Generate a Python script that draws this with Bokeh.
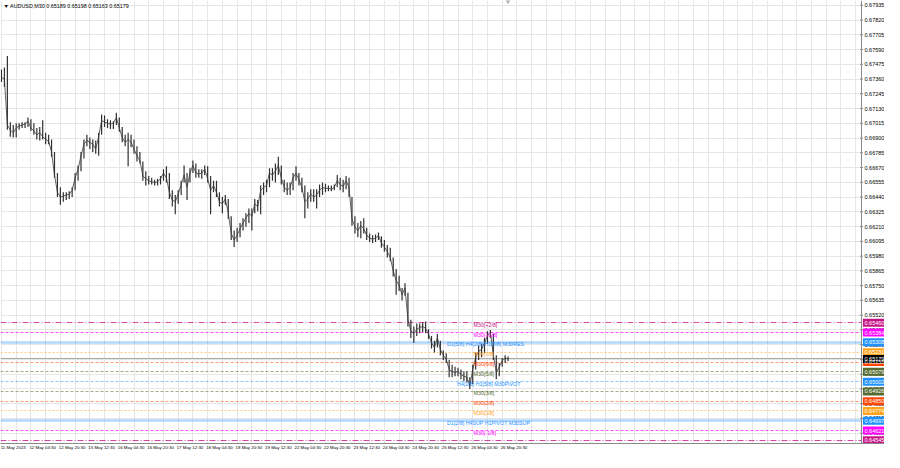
from bokeh.plotting import figure
from bokeh.models import Range1d, FixedTicker, Label
from bokeh.core.properties import value
from bokeh.embed import file_html
from bokeh.resources import INLINE

chart_title = "\u25bc AUDUSD,M30  0.65189 0.65198 0.65163 0.65179"

# aggregated bars (high / low / close), left to right
high = [
    0.67434, 0.67449, 0.67539, 0.67024, 0.67001, 0.67016, 0.67016, 0.67024, 0.67024, 0.67061,
    0.67046, 0.67016, 0.66979, 0.66986, 0.67039, 0.66941, 0.66926, 0.66889, 0.66792, 0.66627,
    0.66516, 0.66478, 0.66478, 0.66485, 0.66516, 0.66627, 0.66687, 0.66792, 0.66889, 0.66926,
    0.66904, 0.66889, 0.66881, 0.66941, 0.67083, 0.67076, 0.67046, 0.67039, 0.67031, 0.67098,
    0.67061, 0.66986, 0.66926, 0.66941, 0.66926, 0.66889, 0.66837, 0.66792, 0.66717, 0.66642,
    0.66605, 0.66590, 0.66575, 0.66583, 0.66605, 0.66657, 0.66680, 0.66627, 0.66493, 0.66456,
    0.66493, 0.66568, 0.66687, 0.66627, 0.66665, 0.66725, 0.66702, 0.66657, 0.66657, 0.66687,
    0.66680, 0.66605, 0.66568, 0.66568, 0.66478, 0.66441, 0.66456, 0.66426, 0.66291, 0.66179,
    0.66202, 0.66239, 0.66276, 0.66314, 0.66351, 0.66351, 0.66426, 0.66418, 0.66530, 0.66553,
    0.66575, 0.66665, 0.66665, 0.66702, 0.66755, 0.66687, 0.66575, 0.66553, 0.66553, 0.66627,
    0.66680, 0.66627, 0.66590, 0.66530, 0.66478, 0.66501, 0.66501, 0.66501, 0.66538, 0.66553,
    0.66545, 0.66530, 0.66530, 0.66538, 0.66612, 0.66590, 0.66575, 0.66605, 0.66590, 0.66441,
    0.66291, 0.66239, 0.66254, 0.66276, 0.66202, 0.66157, 0.66142, 0.66149, 0.66164, 0.66134,
    0.66105, 0.66067, 0.66045, 0.65970, 0.65880, 0.65828, 0.65731, 0.65768, 0.65694, 0.65485,
    0.65432, 0.65455, 0.65455, 0.65462, 0.65470, 0.65410, 0.65358, 0.65320, 0.65373, 0.65320,
    0.65245, 0.65223, 0.65171, 0.65133, 0.65118, 0.65111, 0.65096, 0.65081, 0.65081, 0.65036,
    0.65133, 0.65230, 0.65283, 0.65298, 0.65343, 0.65395, 0.65405, 0.65373, 0.65208, 0.65148,
    0.65186, 0.65208, 0.65198,
]
low = [
    0.67337, 0.67300, 0.66964, 0.66911, 0.66904, 0.66904, 0.66964, 0.66979, 0.66979, 0.66986,
    0.66956, 0.66926, 0.66889, 0.66881, 0.66889, 0.66852, 0.66852, 0.66755, 0.66590, 0.66441,
    0.66381, 0.66403, 0.66418, 0.66426, 0.66441, 0.66493, 0.66568, 0.66642, 0.66740, 0.66837,
    0.66814, 0.66792, 0.66777, 0.66762, 0.66926, 0.66986, 0.66979, 0.66971, 0.66971, 0.67001,
    0.66949, 0.66867, 0.66837, 0.66680, 0.66829, 0.66777, 0.66717, 0.66702, 0.66568, 0.66530,
    0.66538, 0.66538, 0.66530, 0.66530, 0.66538, 0.66568, 0.66553, 0.66426, 0.66366, 0.66306,
    0.66388, 0.66456, 0.66553, 0.66418, 0.66553, 0.66627, 0.66590, 0.66590, 0.66583, 0.66612,
    0.66553, 0.66306, 0.66478, 0.66441, 0.66366, 0.66314, 0.66381, 0.66269, 0.66105, 0.66052,
    0.66090, 0.66127, 0.66179, 0.66209, 0.66239, 0.66179, 0.66314, 0.66329, 0.66306, 0.66456,
    0.66478, 0.66516, 0.66568, 0.66553, 0.66612, 0.66538, 0.66478, 0.66456, 0.66456, 0.66493,
    0.66568, 0.66530, 0.66478, 0.66276, 0.66351, 0.66403, 0.66403, 0.66351, 0.66441, 0.66456,
    0.66478, 0.66485, 0.66485, 0.66493, 0.66516, 0.66493, 0.66478, 0.66501, 0.66441, 0.66217,
    0.66157, 0.66127, 0.66120, 0.66157, 0.66105, 0.66090, 0.66082, 0.66090, 0.66105, 0.66045,
    0.66015, 0.65970, 0.65940, 0.65821, 0.65679, 0.65709, 0.65634, 0.65671, 0.65432, 0.65343,
    0.65305, 0.65358, 0.65380, 0.65388, 0.65380, 0.65335, 0.65260, 0.65230, 0.65268, 0.65208,
    0.65171, 0.65148, 0.65036, 0.65036, 0.65044, 0.65044, 0.65021, 0.65006, 0.64999, 0.64945,
    0.64984, 0.65096, 0.65171, 0.65193, 0.65223, 0.65298, 0.65343, 0.65171, 0.65021, 0.65044,
    0.65118, 0.65148, 0.65163,
]
close = [
    0.67374, 0.67359, 0.67001, 0.66964, 0.66941, 0.66979, 0.66994, 0.67001, 0.67009, 0.67031,
    0.66979, 0.66956, 0.66926, 0.66941, 0.66911, 0.66889, 0.66874, 0.66792, 0.66612, 0.66478,
    0.66441, 0.66448, 0.66456, 0.66463, 0.66493, 0.66590, 0.66657, 0.66762, 0.66852, 0.66881,
    0.66867, 0.66852, 0.66814, 0.66911, 0.67039, 0.67024, 0.67016, 0.67009, 0.67016, 0.67061,
    0.66979, 0.66904, 0.66867, 0.66889, 0.66867, 0.66814, 0.66762, 0.66725, 0.66605, 0.66583,
    0.66568, 0.66560, 0.66553, 0.66560, 0.66583, 0.66627, 0.66590, 0.66478, 0.66418, 0.66403,
    0.66463, 0.66538, 0.66612, 0.66516, 0.66627, 0.66687, 0.66627, 0.66620, 0.66627, 0.66657,
    0.66583, 0.66493, 0.66530, 0.66478, 0.66403, 0.66388, 0.66426, 0.66314, 0.66157, 0.66105,
    0.66142, 0.66194, 0.66239, 0.66276, 0.66314, 0.66291, 0.66388, 0.66366, 0.66493, 0.66516,
    0.66530, 0.66627, 0.66612, 0.66642, 0.66687, 0.66590, 0.66516, 0.66493, 0.66516, 0.66590,
    0.66627, 0.66575, 0.66516, 0.66403, 0.66426, 0.66463, 0.66441, 0.66456, 0.66493, 0.66516,
    0.66508, 0.66508, 0.66501, 0.66516, 0.66568, 0.66538, 0.66523, 0.66568, 0.66516, 0.66269,
    0.66209, 0.66179, 0.66217, 0.66194, 0.66142, 0.66120, 0.66112, 0.66120, 0.66142, 0.66082,
    0.66052, 0.66015, 0.65970, 0.65865, 0.65791, 0.65753, 0.65679, 0.65731, 0.65485, 0.65395,
    0.65380, 0.65410, 0.65425, 0.65432, 0.65417, 0.65373, 0.65305, 0.65268, 0.65343, 0.65253,
    0.65208, 0.65178, 0.65096, 0.65081, 0.65074, 0.65081, 0.65059, 0.65044, 0.65036, 0.64969,
    0.65096, 0.65193, 0.65238, 0.65253, 0.65305, 0.65358, 0.65388, 0.65208, 0.65074, 0.65118,
    0.65163, 0.65186, 0.65179,
]

time_labels = [
    "11 May 2023", "12 May 04:30", "12 May 20:30", "15 May 12:30", "16 May 04:30",
    "16 May 20:30", "17 May 12:30", "18 May 04:30", "18 May 20:30", "19 May 12:30",
    "22 May 04:30", "22 May 20:30", "23 May 12:30", "24 May 04:30", "24 May 20:30",
    "25 May 12:30", "26 May 04:30", "26 May 20:30",
]

price_ticks = [
    0.67935, 0.67820, 0.67705, 0.67590, 0.67475, 0.67360, 0.67245, 0.67130, 0.67015, 0.66900,
    0.66785, 0.66670, 0.66555, 0.66440, 0.66325, 0.66210, 0.66095, 0.65980, 0.65865, 0.65750,
    0.65635, 0.65520, 0.65405, 0.65290, 0.65175, 0.65060, 0.64945, 0.64830, 0.64715, 0.64600,
]

level_prices = [0.65460, 0.65384, 0.65308, 0.65231, 0.65155, 0.65079, 0.65002,
                0.64926, 0.64850, 0.64774, 0.64697, 0.64621, 0.64545]
level_names = ["M30[+2/8]", "M30[+1/8]", "D1[5/8] H4[2/8] H1[8/8] M30RES", "M30[7/8]",
               "M30[6/8]", "M30[5/8]", "H4[1/8] H1[5/8] M30PIVOT", "M30[3/8]",
               "M30[2/8]", "M30[1/8]", "D1[2/8] H4SUP H1PIVOT M30SUP", "M30[-1/8]", ""]
bid_price = 0.65179

# ---------------- styling ----------------
FONT = "Liberation Sans"
level_colors = ["#C71585", "#FF00FF", "#1E90FF", "#FFA31A", "#FF4500", "#556B2F", "#1E90FF",
                "#556B2F", "#FF4500", "#FFA31A", "#1E90FF", "#FF00FF", "#C71585"]
level_dash = ["6 2 1 2", "3 2", "solid", "2 2", "3 2", "3 2", "3 2",
              "3 2", "3 2", "2 2", "solid", "3 2", "6 2 1 2"]
level_width = [1, 1, 2.5, 1, 1, 1, 1, 1, 1, 1, 2.5, 1, 1]
level_alpha = [0.75, 0.7, 0.35, 0.6, 0.55, 0.55, 0.5, 0.55, 0.55, 0.6, 0.35, 0.7, 0.8]
level_text_x = [160.3, 160.3, 151.3, 160.3, 160.3, 160.3, 154.7,
                160.3, 160.3, 160.3, 151.3, 160.3, 160.3]

X_START, X_END = -0.33, 299.8   # plot area incl. the price-scale strip
AXIS_X = 292.0                  # position of the price-scale line
BOX_X = AXIS_X + 4.2            # centre of the coloured price boxes
Y_START, Y_END = 0.64520, 0.67972

p = figure(width=884, height=452, output_backend="svg", toolbar_location=None,
           x_range=Range1d(X_START, X_END), y_range=Range1d(Y_START, Y_END),
           min_border_left=0, min_border_top=0, min_border_right=0, min_border_bottom=0)
p.background_fill_color = "white"
p.border_fill_color = "white"
p.outline_line_color = None
p.yaxis.visible = False

# time axis
xt = [10 * k + 4 for k in range(len(time_labels))]
p.xaxis.ticker = FixedTicker(ticks=xt)
p.xaxis.major_label_overrides = {t: s for t, s in zip(xt, time_labels)}
p.xaxis.major_tick_line_color = None
p.xaxis.minor_tick_line_color = None
p.xaxis.major_tick_out = 0
p.xaxis.major_tick_in = 0
p.xaxis.minor_tick_out = 0
p.xaxis.axis_line_color = "#8a8a8a"
p.xaxis.major_label_text_font = FONT
p.xaxis.major_label_text_font_size = "4.4px"
p.xaxis.major_label_text_color = "#000000"
p.xaxis.major_label_standoff = 1

# grids
p.xgrid.ticker = FixedTicker(ticks=[5 * k for k in range(59)])
p.ygrid.ticker = FixedTicker(ticks=price_ticks)
p.xgrid.grid_line_color = "#e6e6e6"
p.ygrid.grid_line_color = "#e6e6e6"

# level lines
for lv, c, d, w, a in zip(level_prices, level_colors, level_dash, level_width, level_alpha):
    p.hspan(y=[lv], line_color=c, line_dash=d, line_width=w, line_alpha=a)
p.hspan(y=[bid_price], line_color="#a8a8a8", line_width=1)

# price bars (high-low sticks joined by the closes)
idx = list(range(len(close)))
p.segment(x0=idx, y0=low, x1=idx, y1=high, line_color="#303030", line_width=1.2)
p.line(idx, close, line_color="#3a3a3a", line_width=0.8)

# level names inside the chart
names_src = dict(x=level_text_x, y=level_prices, t=level_names, c=level_colors)
p.text(x="x", y="y", text="t", text_color="c", source=names_src,
       text_font=value(FONT), text_font_size="5.3px", text_baseline="middle",
       text_align="left", y_offset=2)

# chart-shift marker
p.scatter(x=[len(close) - 1], y=[Y_END], marker="inverted_triangle", size=5,
          fill_color="#b0b0b0", line_color="#b0b0b0")

# ---------------- price scale strip ----------------
p.quad(left=[AXIS_X], right=[X_END], bottom=[Y_START], top=[Y_END],
       fill_color="white", line_color=None)
p.vspan(x=[AXIS_X], line_color="#8a8a8a", line_width=1)
p.scatter(x=[AXIS_X] * len(price_ticks), y=price_ticks, marker="dash", size=3,
          line_color="#8a8a8a")
tick_src = dict(x=[AXIS_X] * len(price_ticks), y=price_ticks,
                t=["%.5f" % v for v in price_ticks])
p.text(x="x", y="y", text="t", source=tick_src, text_color="#000000",
       text_font=value(FONT), text_font_size="5.5px", text_baseline="middle",
       text_align="left", x_offset=3)

box_prices = level_prices + [bid_price]
box_colors = level_colors + ["#000000"]
box_src = dict(x=[AXIS_X] * len(box_prices), bx=[BOX_X] * len(box_prices),
               y=box_prices, c=box_colors, t=["%.5f" % v for v in box_prices])
p.rect(x="bx", y="y", width=22, height=8, width_units="screen", height_units="screen",
       fill_color="c", line_color=None, source=box_src)
p.text(x="x", y="y", text="t", source=box_src, text_color="white",
       text_font=value(FONT), text_font_size="5.5px", text_baseline="middle",
       text_align="left", x_offset=3)

# title
p.add_layout(Label(x=X_START, y=Y_END, x_units="data", y_units="data", x_offset=3,
                   y_offset=-2, text=chart_title, text_color="#000000", text_font=FONT,
                   text_font_size="5.4px", text_baseline="top", text_align="left"))

open("out.html", "w").write(file_html(p, INLINE))
